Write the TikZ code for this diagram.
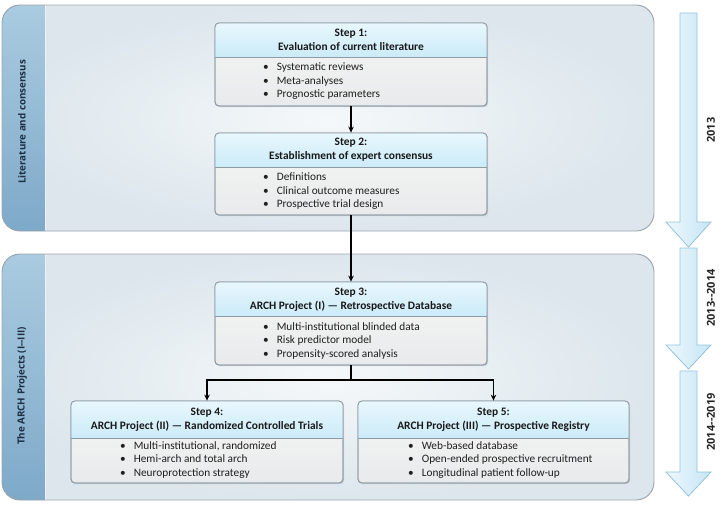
\documentclass[tikz,border=0pt]{standalone}
\usepackage{fontspec}
\setmainfont{Carlito}
\newfontfamily\labfont{Open Sans}
\usetikzlibrary{arrows.meta,shadows}
\definecolor{boxc}{HTML}{8E9BA5}
\definecolor{headt}{HTML}{E8F7FD}
\definecolor{headb}{HTML}{CBEBF8}
\definecolor{bodyt}{HTML}{F6F6F6}
\definecolor{bodyb}{HTML}{E9EAEB}
\definecolor{panc}{HTML}{9CA6AE}
\definecolor{panin}{HTML}{F5F8FA}
\definecolor{panout}{HTML}{DCE6EC}
\definecolor{stript}{HTML}{AACBE0}
\definecolor{stripb}{HTML}{7EA9C9}
\definecolor{labc}{HTML}{1E2F44}
\definecolor{arrL}{HTML}{EDF8FD}
\definecolor{arrR}{HTML}{C6E5F5}
\definecolor{arrB}{HTML}{94C3DC}
\tikzset{
  boxnode/.style={draw=boxc, line width=0.8pt, rounded corners=4pt, top color=bodyt, bottom color=bodyb, inner sep=0pt,
    drop shadow={opacity=0.25, shadow xshift=1.2pt, shadow yshift=-1.2pt}},
  headtext/.style={font=\bfseries\fontsize{11.4}{14}\selectfont, align=center, text=black!90, inner sep=0pt},
  bodytext/.style={font=\fontsize{11.3}{13.5}\selectfont, align=left, text=black!88, inner sep=0pt, anchor=west},
  conn/.style={line width=1.3pt, black},
  connarr/.style={conn, -{Stealth[length=6pt,width=5.5pt]}},
  panel/.style={draw=panc, line width=0.9pt, rounded corners=18pt},
  panlab/.style={font=\labfont\bfseries\fontsize{9.8}{11}\selectfont, text=labc, rotate=90},
  yearlab/.style={font=\labfont\bfseries\fontsize{11}{12}\selectfont, text=black!85, rotate=90},
  tarrow/.style={draw=arrB, line width=0.8pt, left color=arrL, right color=arrR}
}
\newcommand\stepbox[6]{%
  \node[boxnode, minimum width={(#4-#2)*1pt}, minimum height={(#5-#3)*1pt}] (#1) at ({(#2+#4)/2},{(#3+#5)/2}) {};
  \begin{scope}
    \clip[rounded corners=4pt] (#2,#3) rectangle (#4,#5);
    \fill[top color=headt, bottom color=headb] (#2,#3) rectangle (#4,#6);
  \end{scope}
  \draw[boxc, line width=0.8pt] (#2,#6) -- (#4,#6);
  \draw[boxc, line width=0.8pt, rounded corners=4pt] (#2,#3) rectangle (#4,#5);
}
\newcommand\panelbox[2]{% top, bottom
  \begin{scope}
    \clip[rounded corners=18pt] (2,#1) rectangle (654,#2);
    \fill[inner color=panin, outer color=panout] (2,#1) rectangle (654,#2);
    \fill[top color=stript, bottom color=stripb] (2,#1) rectangle (45,#2);
    \draw[white!85!stripb, line width=0.8pt] (45,#1) -- (45,#2);
  \end{scope}
  \draw[panel] (2,#1) rectangle (654,#2);
}
\newcommand\timearrow[3]{%
  \path[tarrow] (680,#1) -- (697,#1) -- (697,#2) -- (711,#2) -- (688.5,#3) -- (666,#2) -- (680,#2) -- cycle;
}
\begin{document}
\begin{tikzpicture}[x=1pt,y=-1pt]
\useasboundingbox (0,0) rectangle (723,504);

% panels
\panelbox{5}{231}
\panelbox{254}{500}
\node[panlab] (lab1) at (22,122) {Literature and consensus};
\node[panlab] (lab2) at (22,386) {The ARCH Projects (I--III)};

% timeline
\timearrow{13}{222}{247}
\timearrow{248}{345}{369}
\timearrow{371}{472}{496}
\node[yearlab] (y1) at (711,130) {2013};
\node[yearlab] (y2) at (711,298) {2013--2014};
\node[yearlab] (y3) at (711,422) {2014--2019};

% step boxes
\stepbox{s1}{215}{23}{487}{106}{57}
\node[headtext] (h1) at (351,40) {Step 1:\\Evaluation of current literature};
\node[bodytext] (b1) at (263,81.5) {\textbullet\hspace{8pt}Systematic reviews\\\textbullet\hspace{8pt}Meta-analyses\\\textbullet\hspace{8pt}Prognostic parameters};

\stepbox{s2}{215}{133}{487}{215}{167}
\node[headtext] (h2) at (351,150) {Step 2:\\Establishment of expert consensus};
\node[bodytext] (b2) at (263,191.5) {\textbullet\hspace{8pt}Definitions\\\textbullet\hspace{8pt}Clinical outcome measures\\\textbullet\hspace{8pt}Prospective trial design};

\stepbox{s3}{215}{282}{487}{365}{316}
\node[headtext] (h3) at (351,299.5) {Step 3:\\ARCH Project (I) — Retrospective Database};
\node[bodytext] (b3) at (263,340.5) {\textbullet\hspace{8pt}Multi-institutional blinded data\\\textbullet\hspace{8pt}Risk predictor model\\\textbullet\hspace{8pt}Propensity-scored analysis};

\stepbox{s4}{71}{401}{343}{483}{438}
\node[headtext] (h4) at (207,419.5) {Step 4:\\ARCH Project (II) — Randomized Controlled Trials};
\node[bodytext] (b4) at (120,460) {\textbullet\hspace{8pt}Multi-institutional, randomized\\\textbullet\hspace{8pt}Hemi-arch and total arch\\\textbullet\hspace{8pt}Neuroprotection strategy};

\stepbox{s5}{358}{401}{629}{483}{438}
\node[headtext] (h5) at (493.5,419.5) {Step 5:\\ARCH Project (III) — Prospective Registry};
\node[bodytext] (b5) at (408,460) {\textbullet\hspace{8pt}Web-based database\\\textbullet\hspace{8pt}Open-ended prospective recruitment\\\textbullet\hspace{8pt}Longitudinal patient follow-up};

% connectors
\draw[connarr] (s1.south) -- (s2.north);
\draw[connarr] (s2.south) -- (s3.north);
\coordinate (br) at (351,380);
\draw[conn] (s3.south) -- (br);
\draw[connarr] (br) -| (s4.north);
\draw[connarr] (br) -| (s5.north);
\end{tikzpicture}
\end{document}
